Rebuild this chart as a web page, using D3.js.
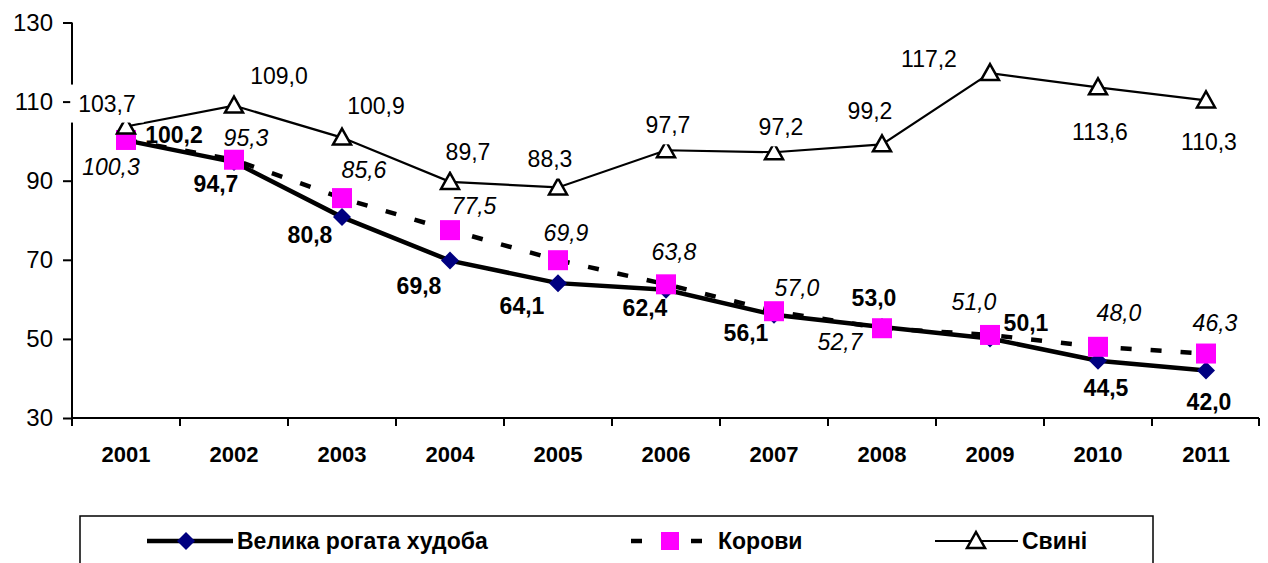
<!DOCTYPE html>
<html>
<head>
<meta charset="utf-8">
<script src="https://cdn.jsdelivr.net/npm/d3@7"></script>
<style>
html,body{margin:0;padding:0;background:#fff;}
svg{display:block;font-family:"Liberation Sans",Arial,sans-serif;}
</style>
</head>
<body>
<svg id="chart" width="1268" height="563"></svg>
<script>
// ---- data ----
const years = ["2001","2002","2003","2004","2005","2006","2007","2008","2009","2010","2011"];
const vrh    = [100.2, 94.7, 80.8, 69.8, 64.1, 62.4, 56.1, 53.0, 50.1, 44.5, 42.0];
const korovy = [100.3, 95.3, 85.6, 77.5, 69.9, 63.8, 57.0, 52.7, 51.0, 48.0, 46.3];
const svyni  = [103.7, 109.0, 100.9, 89.7, 88.3, 97.7, 97.2, 99.2, 117.2, 113.6, 110.3];
const yTicks = [30, 50, 70, 90, 110, 130];
const seriesNames = ["Велика рогата худоба", "Корови", "Свині"];

// label offsets (label centre relative to point), layout only
const vrhOff    = [[48,-5],[-18,22],[-32,18],[-31,25],[-36,23],[-21,18],[-28,18],[-8,-29],[36,-16],[8,27],[3,31]];
const korovyOff = [[-15,27],[12,-22],[22,-28],[24,-24],[8,-27],[8,-32],[23,-23],[-42,14],[-16,-33],[21,-34],[9,-31]];
const svyniOff  = [[-19,-23],[45,-30],[34,-32],[18,-30],[-8,-28],[2,-25],[7,-25],[-12,-33],[-61,-14],[2,45],[3,42]];

const svg = d3.select("#chart");
const x = d3.scaleBand().domain(years).range([72, 1260]).padding(0);
const y = d3.scaleLinear().domain([30, 130]).range([418, 22.5]);
const cx = d => x(d) + x.bandwidth() / 2;
const fmt = v => d3.format(".1f")(v).replace(".", ",");

// axes
const yAxis = svg.append("g").attr("transform", "translate(72,0)")
  .call(d3.axisLeft(y).tickValues(yTicks).tickSize(9).tickPadding(10).tickFormat(d3.format("d")));
yAxis.select(".domain").attr("stroke", "#000").attr("stroke-width", 2).attr("d", "M0,22.5V418");
yAxis.selectAll(".tick line").attr("stroke", "#000").attr("stroke-width", 2);
yAxis.selectAll(".tick text").attr("font-size", 24).attr("fill", "#000")
  .attr("font-family", "'Liberation Sans',Arial,sans-serif");

const xAxis = svg.append("g").attr("transform", "translate(0,418)")
  .call(d3.axisBottom(x).tickSize(0).tickPadding(28));
xAxis.select(".domain").attr("stroke", "#000").attr("stroke-width", 2).attr("d", "M72,0H1259");
xAxis.selectAll(".tick text").attr("font-size", 22).attr("font-weight", "bold").attr("fill", "#000")
  .attr("font-family", "'Liberation Sans',Arial,sans-serif");
// boundary ticks
const bounds = years.map(d => x(d)).concat([x(years[years.length-1]) + x.bandwidth()]);
svg.append("g").selectAll("line").data(bounds).join("line")
  .attr("x1", d => Math.min(d, 1259)).attr("x2", d => Math.min(d, 1259))
  .attr("y1", 418).attr("y2", 426).attr("stroke", "#000").attr("stroke-width", 2);

const line = d3.line().x((d, i) => cx(years[i])).y(d => y(d));

// markers
const diamond = (g, px, py, r) => g.append("path")
  .attr("d", `M${px},${py-r}L${px+r},${py}L${px},${py+r}L${px-r},${py}Z`)
  .attr("fill", "#000080");
const square = (g, px, py, s) => g.append("rect")
  .attr("x", px - s/2).attr("y", py - s/2).attr("width", s).attr("height", s).attr("fill", "#ff00ff");
const triangle = (g, px, py) => g.append("path")
  .attr("d", `M${px},${py-9}L${px+9},${py+7}L${px-9},${py+7}Z`)
  .attr("fill", "#fff").attr("stroke", "#000").attr("stroke-width", 2.5).attr("stroke-linejoin", "miter");

// series 1: ВРХ
const g1 = svg.append("g");
g1.append("path").datum(vrh).attr("d", line).attr("fill", "none").attr("stroke", "#000").attr("stroke-width", 4.5);
vrh.forEach((v, i) => diamond(g1, cx(years[i]), y(v), 9));
// series 2: Корови
const g2 = svg.append("g");
g2.append("path").datum(korovy).attr("d", line).attr("fill", "none").attr("stroke", "#000")
  .attr("stroke-width", 4.5).attr("stroke-dasharray", "11,19");
korovy.forEach((v, i) => square(g2, cx(years[i]), y(v), 20));
// series 3: Свині
const g3 = svg.append("g");
g3.append("path").datum(svyni).attr("d", line).attr("fill", "none").attr("stroke", "#000").attr("stroke-width", 2.2);
svyni.forEach((v, i) => triangle(g3, cx(years[i]), y(v)));

// labels
function labels(data, off, style, bg) {
  const g = svg.append("g");
  data.forEach((v, i) => {
    const lx = cx(years[i]) + off[i][0], ly = y(v) + off[i][1];
    const t = g.append("text").attr("x", lx).attr("y", ly).attr("dy", "0.35em")
      .attr("text-anchor", "middle").attr("font-size", 23).attr("fill", "#000")
      .attr("font-weight", style === "bold" ? "bold" : "normal")
      .attr("font-style", style === "italic" ? "italic" : "normal")
      .text(fmt(v));
    if (bg) {
      const b = t.node().getBBox();
      g.insert("rect", () => t.node()).attr("x", b.x - 8).attr("y", b.y - 6)
        .attr("width", b.width + 16).attr("height", b.height + 12).attr("fill", "#fff");
    }
  });
}
labels(svyni, svyniOff, "normal", true);
labels(korovy, korovyOff, "italic", false);
labels(vrh, vrhOff, "bold", false);

// legend
const lg = svg.append("g");
lg.append("rect").attr("x", 80).attr("y", 516).attr("width", 1073).attr("height", 80)
  .attr("fill", "#fff").attr("stroke", "#000").attr("stroke-width", 1.5);
const ly = 541;
lg.append("line").attr("x1", 147).attr("x2", 233).attr("y1", ly).attr("y2", ly).attr("stroke", "#000").attr("stroke-width", 4.5);
diamond(lg, 186, ly, 9);
lg.append("text").attr("x", 237).attr("y", ly).attr("dy", "0.35em").attr("font-size", 23).attr("font-weight", "bold").text(seriesNames[0]);

lg.append("line").attr("x1", 631).attr("x2", 703).attr("y1", ly).attr("y2", ly).attr("stroke", "#000")
  .attr("stroke-width", 4.5).attr("stroke-dasharray", "11,19");
square(lg, 670, ly, 18);
lg.append("text").attr("x", 718).attr("y", ly).attr("dy", "0.35em").attr("font-size", 23).attr("font-weight", "bold").text(seriesNames[1]);

lg.append("line").attr("x1", 935).attr("x2", 1018).attr("y1", ly).attr("y2", ly).attr("stroke", "#000").attr("stroke-width", 2.2);
triangle(lg, 976, ly);
lg.append("text").attr("x", 1022).attr("y", ly).attr("dy", "0.35em").attr("font-size", 23).attr("font-weight", "bold").text(seriesNames[2]);
</script>
</body>
</html>
